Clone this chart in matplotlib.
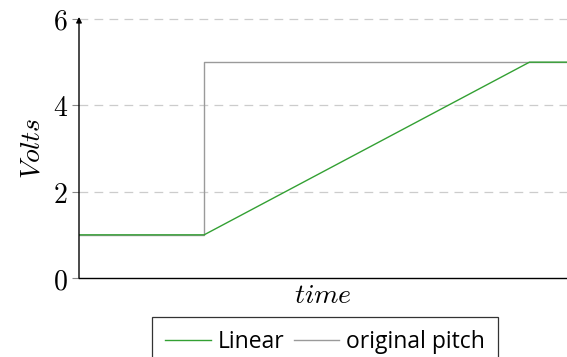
import matplotlib
matplotlib.use("Agg")
import matplotlib.pyplot as plt

# Control voltage over time: a linear glide vs. the original stepped pitch
linear_time = [0.0, 1.0, 3.6, 3.9]
linear_volts = [1, 1, 5, 5]
pitch_time = [0.0, 1.0, 1.0, 3.9]
pitch_volts = [1, 1, 5, 5]
y_ticks = [0, 2, 4, 6]

plt.rcParams["mathtext.fontset"] = "cm"

fig = plt.figure(figsize=(5.67, 3.57), dpi=100)
ax = fig.add_axes([79 / 567, 79 / 357, 488 / 567, 259 / 357])

ax.plot(linear_time, linear_volts, color="#33a033", lw=1.0, label="Linear", zorder=3)
ax.plot(pitch_time, pitch_volts, color="#9a9a9a", lw=1.0, label="original pitch", zorder=2)

ax.set_xlim(0, 3.9)
ax.set_ylim(0, 6)
ax.set_xticks([])
ax.set_yticks(y_ticks)
ax.set_yticklabels([f"${v}$" for v in y_ticks], fontsize=20)
ax.tick_params(axis="y", length=5, width=0.8, color="#888888", pad=3)

for v in y_ticks[1:]:
    ax.axhline(v, color="#cccccc", lw=0.9, ls=(0, (7, 5)), zorder=1, clip_on=False)

for side in ("top", "right", "left"):
    ax.spines[side].set_visible(False)
ax.spines["bottom"].set_color("black")
ax.spines["bottom"].set_linewidth(1.0)

# Left axis drawn as an arrow
ax.annotate("", xy=(0, 1.008), xytext=(0, 0), xycoords="axes fraction",
            arrowprops=dict(arrowstyle="-|>", color="black", lw=1.0,
                            mutation_scale=8, shrinkA=0, shrinkB=0))

ax.set_ylabel("$Volts$", fontsize=20, labelpad=5)
ax.set_xlabel("$time$", fontsize=20, labelpad=2)

leg = fig.legend(loc="upper center", bbox_to_anchor=(325 / 567, 40 / 357), ncol=2,
                 frameon=True, fancybox=False, edgecolor="black",
                 prop={"family": "Open Sans", "size": 16.5},
                 handlelength=2.0, handletextpad=0.3, columnspacing=0.4,
                 borderpad=0.55, borderaxespad=0)
leg.get_frame().set_linewidth(0.9)

fig.savefig("out.png", dpi=100)
